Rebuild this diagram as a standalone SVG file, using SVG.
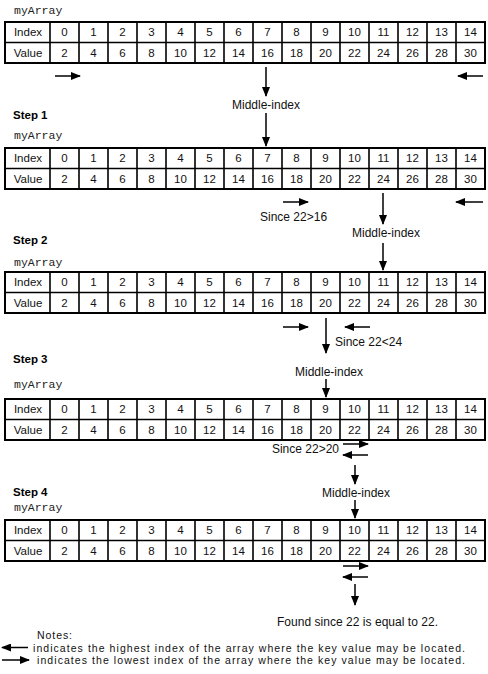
<svg xmlns="http://www.w3.org/2000/svg" width="488" height="674" viewBox="0 0 488 674">
<style>
.bg{fill:#fff}
.grid{fill:none;stroke:#000;stroke-width:1.6}
.outer{fill:none;stroke:#000;stroke-width:2}
.c{font-family:"Liberation Sans",Arial,sans-serif;font-size:11.5px;fill:#111;text-anchor:middle}
.lbl{font-family:"Liberation Sans",Arial,sans-serif;font-size:12px;fill:#111}
.note{font-family:"Liberation Sans",Arial,sans-serif;font-size:10.5px;fill:#111}
.step{font-family:"Liberation Sans",Arial,sans-serif;font-size:11.5px;font-weight:bold;fill:#000}
.mono{font-family:"Liberation Mono","DejaVu Sans Mono",monospace;font-size:11.5px;fill:#222}
.arr{stroke:#000;stroke-width:1.5;fill:none;marker-end:url(#ah)}
</style>
<defs>
<marker id="ah" markerUnits="userSpaceOnUse" markerWidth="10" markerHeight="8" refX="9" refY="4" orient="auto">
<path d="M0,0 L10,4 L0,8 z" fill="#000"/>
</marker>
</defs>
<rect class="bg" x="0" y="0" width="488" height="674"/>

<g id="labels">
<text class="mono" x="14" y="14">myArray</text>
<text class="step" x="13" y="119">Step 1</text>
<text class="mono" x="14" y="139">myArray</text>
<text class="step" x="13" y="244">Step 2</text>
<text class="mono" x="14" y="266">myArray</text>
<text class="step" x="13" y="363">Step 3</text>
<text class="mono" x="14" y="388">myArray</text>
<text class="step" x="13" y="496">Step 4</text>
<text class="mono" x="14" y="511">myArray</text>
</g>

<g id="table0">
<rect class="outer" x="5" y="22" width="480" height="41"/>
<path class="grid" d="M5 42.5H485M50 22V63M79 22V63M108 22V63M137 22V63M166 22V63M195 22V63M224 22V63M253 22V63M282 22V63M311 22V63M340 22V63M369 22V63M398 22V63M427 22V63M456 22V63"/>
<text class="c" x="28" y="36">Index</text><text class="c" x="64.5" y="36">0</text><text class="c" x="93.5" y="36">1</text><text class="c" x="122.5" y="36">2</text><text class="c" x="151.5" y="36">3</text><text class="c" x="180.5" y="36">4</text><text class="c" x="209.5" y="36">5</text><text class="c" x="238.5" y="36">6</text><text class="c" x="267.5" y="36">7</text><text class="c" x="296.5" y="36">8</text><text class="c" x="325.5" y="36">9</text><text class="c" x="354.5" y="36">10</text><text class="c" x="383.5" y="36">11</text><text class="c" x="412.5" y="36">12</text><text class="c" x="441.5" y="36">13</text><text class="c" x="470.5" y="36">14</text>
<text class="c" x="28" y="56.5">Value</text><text class="c" x="64.5" y="56.5">2</text><text class="c" x="93.5" y="56.5">4</text><text class="c" x="122.5" y="56.5">6</text><text class="c" x="151.5" y="56.5">8</text><text class="c" x="180.5" y="56.5">10</text><text class="c" x="209.5" y="56.5">12</text><text class="c" x="238.5" y="56.5">14</text><text class="c" x="267.5" y="56.5">16</text><text class="c" x="296.5" y="56.5">18</text><text class="c" x="325.5" y="56.5">20</text><text class="c" x="354.5" y="56.5">22</text><text class="c" x="383.5" y="56.5">24</text><text class="c" x="412.5" y="56.5">26</text><text class="c" x="441.5" y="56.5">28</text><text class="c" x="470.5" y="56.5">30</text>
</g>

<g id="table1">
<rect class="outer" x="5" y="148" width="480" height="41"/>
<path class="grid" d="M5 168.5H485M50 148V189M79 148V189M108 148V189M137 148V189M166 148V189M195 148V189M224 148V189M253 148V189M282 148V189M311 148V189M340 148V189M369 148V189M398 148V189M427 148V189M456 148V189"/>
<text class="c" x="28" y="162">Index</text><text class="c" x="64.5" y="162">0</text><text class="c" x="93.5" y="162">1</text><text class="c" x="122.5" y="162">2</text><text class="c" x="151.5" y="162">3</text><text class="c" x="180.5" y="162">4</text><text class="c" x="209.5" y="162">5</text><text class="c" x="238.5" y="162">6</text><text class="c" x="267.5" y="162">7</text><text class="c" x="296.5" y="162">8</text><text class="c" x="325.5" y="162">9</text><text class="c" x="354.5" y="162">10</text><text class="c" x="383.5" y="162">11</text><text class="c" x="412.5" y="162">12</text><text class="c" x="441.5" y="162">13</text><text class="c" x="470.5" y="162">14</text>
<text class="c" x="28" y="182.5">Value</text><text class="c" x="64.5" y="182.5">2</text><text class="c" x="93.5" y="182.5">4</text><text class="c" x="122.5" y="182.5">6</text><text class="c" x="151.5" y="182.5">8</text><text class="c" x="180.5" y="182.5">10</text><text class="c" x="209.5" y="182.5">12</text><text class="c" x="238.5" y="182.5">14</text><text class="c" x="267.5" y="182.5">16</text><text class="c" x="296.5" y="182.5">18</text><text class="c" x="325.5" y="182.5">20</text><text class="c" x="354.5" y="182.5">22</text><text class="c" x="383.5" y="182.5">24</text><text class="c" x="412.5" y="182.5">26</text><text class="c" x="441.5" y="182.5">28</text><text class="c" x="470.5" y="182.5">30</text>
</g>

<g id="table2">
<rect class="outer" x="5" y="272" width="480" height="41"/>
<path class="grid" d="M5 292.5H485M50 272V313M79 272V313M108 272V313M137 272V313M166 272V313M195 272V313M224 272V313M253 272V313M282 272V313M311 272V313M340 272V313M369 272V313M398 272V313M427 272V313M456 272V313"/>
<text class="c" x="28" y="286">Index</text><text class="c" x="64.5" y="286">0</text><text class="c" x="93.5" y="286">1</text><text class="c" x="122.5" y="286">2</text><text class="c" x="151.5" y="286">3</text><text class="c" x="180.5" y="286">4</text><text class="c" x="209.5" y="286">5</text><text class="c" x="238.5" y="286">6</text><text class="c" x="267.5" y="286">7</text><text class="c" x="296.5" y="286">8</text><text class="c" x="325.5" y="286">9</text><text class="c" x="354.5" y="286">10</text><text class="c" x="383.5" y="286">11</text><text class="c" x="412.5" y="286">12</text><text class="c" x="441.5" y="286">13</text><text class="c" x="470.5" y="286">14</text>
<text class="c" x="28" y="306.5">Value</text><text class="c" x="64.5" y="306.5">2</text><text class="c" x="93.5" y="306.5">4</text><text class="c" x="122.5" y="306.5">6</text><text class="c" x="151.5" y="306.5">8</text><text class="c" x="180.5" y="306.5">10</text><text class="c" x="209.5" y="306.5">12</text><text class="c" x="238.5" y="306.5">14</text><text class="c" x="267.5" y="306.5">16</text><text class="c" x="296.5" y="306.5">18</text><text class="c" x="325.5" y="306.5">20</text><text class="c" x="354.5" y="306.5">22</text><text class="c" x="383.5" y="306.5">24</text><text class="c" x="412.5" y="306.5">26</text><text class="c" x="441.5" y="306.5">28</text><text class="c" x="470.5" y="306.5">30</text>
</g>

<g id="table3">
<rect class="outer" x="5" y="399" width="480" height="41"/>
<path class="grid" d="M5 419.5H485M50 399V440M79 399V440M108 399V440M137 399V440M166 399V440M195 399V440M224 399V440M253 399V440M282 399V440M311 399V440M340 399V440M369 399V440M398 399V440M427 399V440M456 399V440"/>
<text class="c" x="28" y="413">Index</text><text class="c" x="64.5" y="413">0</text><text class="c" x="93.5" y="413">1</text><text class="c" x="122.5" y="413">2</text><text class="c" x="151.5" y="413">3</text><text class="c" x="180.5" y="413">4</text><text class="c" x="209.5" y="413">5</text><text class="c" x="238.5" y="413">6</text><text class="c" x="267.5" y="413">7</text><text class="c" x="296.5" y="413">8</text><text class="c" x="325.5" y="413">9</text><text class="c" x="354.5" y="413">10</text><text class="c" x="383.5" y="413">11</text><text class="c" x="412.5" y="413">12</text><text class="c" x="441.5" y="413">13</text><text class="c" x="470.5" y="413">14</text>
<text class="c" x="28" y="433.5">Value</text><text class="c" x="64.5" y="433.5">2</text><text class="c" x="93.5" y="433.5">4</text><text class="c" x="122.5" y="433.5">6</text><text class="c" x="151.5" y="433.5">8</text><text class="c" x="180.5" y="433.5">10</text><text class="c" x="209.5" y="433.5">12</text><text class="c" x="238.5" y="433.5">14</text><text class="c" x="267.5" y="433.5">16</text><text class="c" x="296.5" y="433.5">18</text><text class="c" x="325.5" y="433.5">20</text><text class="c" x="354.5" y="433.5">22</text><text class="c" x="383.5" y="433.5">24</text><text class="c" x="412.5" y="433.5">26</text><text class="c" x="441.5" y="433.5">28</text><text class="c" x="470.5" y="433.5">30</text>
</g>

<g id="table4">
<rect class="outer" x="5" y="520" width="480" height="41"/>
<path class="grid" d="M5 540.5H485M50 520V561M79 520V561M108 520V561M137 520V561M166 520V561M195 520V561M224 520V561M253 520V561M282 520V561M311 520V561M340 520V561M369 520V561M398 520V561M427 520V561M456 520V561"/>
<text class="c" x="28" y="534">Index</text><text class="c" x="64.5" y="534">0</text><text class="c" x="93.5" y="534">1</text><text class="c" x="122.5" y="534">2</text><text class="c" x="151.5" y="534">3</text><text class="c" x="180.5" y="534">4</text><text class="c" x="209.5" y="534">5</text><text class="c" x="238.5" y="534">6</text><text class="c" x="267.5" y="534">7</text><text class="c" x="296.5" y="534">8</text><text class="c" x="325.5" y="534">9</text><text class="c" x="354.5" y="534">10</text><text class="c" x="383.5" y="534">11</text><text class="c" x="412.5" y="534">12</text><text class="c" x="441.5" y="534">13</text><text class="c" x="470.5" y="534">14</text>
<text class="c" x="28" y="554.5">Value</text><text class="c" x="64.5" y="554.5">2</text><text class="c" x="93.5" y="554.5">4</text><text class="c" x="122.5" y="554.5">6</text><text class="c" x="151.5" y="554.5">8</text><text class="c" x="180.5" y="554.5">10</text><text class="c" x="209.5" y="554.5">12</text><text class="c" x="238.5" y="554.5">14</text><text class="c" x="267.5" y="554.5">16</text><text class="c" x="296.5" y="554.5">18</text><text class="c" x="325.5" y="554.5">20</text><text class="c" x="354.5" y="554.5">22</text><text class="c" x="383.5" y="554.5">24</text><text class="c" x="412.5" y="554.5">26</text><text class="c" x="441.5" y="554.5">28</text><text class="c" x="470.5" y="554.5">30</text>
</g>

<g id="annotations">
<text class="lbl" x="266" y="109" text-anchor="middle">Middle-index</text>
<text class="lbl" x="260" y="221">Since 22&gt;16</text>
<text class="lbl" x="386" y="237" text-anchor="middle">Middle-index</text>
<text class="lbl" x="335" y="346">Since 22&lt;24</text>
<text class="lbl" x="329" y="376" text-anchor="middle">Middle-index</text>
<text class="lbl" x="339" y="453" text-anchor="end">Since 22&gt;20</text>
<text class="lbl" x="356" y="497" text-anchor="middle">Middle-index</text>
<text class="lbl" x="277" y="626" textLength="161">Found since 22 is equal to 22.</text>
</g>

<g id="notes">
<text class="note" x="37" y="639" textLength="35">Notes:</text>
<text class="note" x="33" y="651.5" textLength="432">indicates the highest index of the array where the key value may be located.</text>
<text class="note" x="37" y="664" textLength="428">indicates the lowest index of the array where the key value may be located.</text>
</g>

<g id="connectors">
<line class="arr" x1="55" y1="76" x2="80" y2="76"/>
<line class="arr" x1="483" y1="76" x2="458" y2="76"/>
<line class="arr" x1="266" y1="67" x2="266" y2="96"/>
<line class="arr" x1="266" y1="113" x2="266" y2="146"/>

<line class="arr" x1="283" y1="202" x2="308" y2="202"/>
<line class="arr" x1="483" y1="202" x2="456" y2="202"/>
<line class="arr" x1="383" y1="193" x2="383" y2="224"/>
<line class="arr" x1="383" y1="243" x2="383" y2="270"/>

<line class="arr" x1="283" y1="327" x2="308" y2="327"/>
<line class="arr" x1="370" y1="327" x2="345" y2="327"/>
<line class="arr" x1="326" y1="318" x2="326" y2="353"/>
<line class="arr" x1="326" y1="379" x2="326" y2="397"/>

<line class="arr" x1="343" y1="444" x2="368" y2="444"/>
<line class="arr" x1="368" y1="455" x2="343" y2="455"/>
<line class="arr" x1="355" y1="465" x2="355" y2="484"/>
<line class="arr" x1="355" y1="500" x2="355" y2="518"/>

<line class="arr" x1="343" y1="566" x2="368" y2="566"/>
<line class="arr" x1="368" y1="577" x2="343" y2="577"/>
<line class="arr" x1="355" y1="584" x2="355" y2="605"/>

<line class="arr" x1="28" y1="647.5" x2="2" y2="647.5"/>
<line class="arr" x1="2" y1="660" x2="29" y2="660"/>
</g>
</svg>
